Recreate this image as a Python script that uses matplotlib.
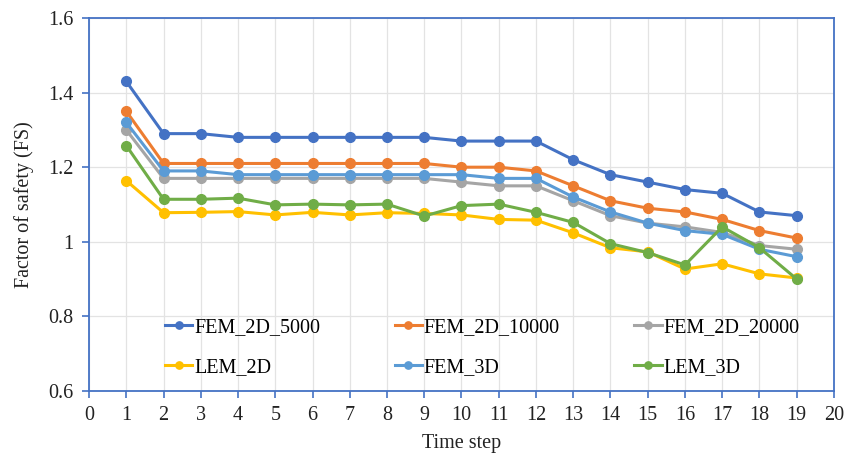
import matplotlib
matplotlib.use("Agg")
import matplotlib.pyplot as plt

# === Data ===
steps = list(range(1, 20))

fem_2d_5000 = [1.43, 1.29, 1.29, 1.28, 1.28, 1.28, 1.28, 1.28, 1.28, 1.27,
               1.27, 1.27, 1.22, 1.18, 1.16, 1.14, 1.13, 1.08, 1.07]
fem_2d_10000 = [1.35, 1.21, 1.21, 1.21, 1.21, 1.21, 1.21, 1.21, 1.21, 1.20,
                1.20, 1.19, 1.15, 1.11, 1.09, 1.08, 1.06, 1.03, 1.01]
fem_2d_20000 = [1.30, 1.17, 1.17, 1.17, 1.17, 1.17, 1.17, 1.17, 1.17, 1.16,
                1.15, 1.15, 1.11, 1.07, 1.05, 1.04, 1.025, 0.99, 0.98]
lem_2d = [1.164, 1.078, 1.079, 1.081, 1.072, 1.079, 1.072, 1.078, 1.076, 1.072,
          1.060, 1.058, 1.024, 0.984, 0.973, 0.927, 0.941, 0.914, 0.903]
fem_3d = [1.32, 1.19, 1.19, 1.18, 1.18, 1.18, 1.18, 1.18, 1.18, 1.18,
          1.17, 1.17, 1.12, 1.08, 1.05, 1.03, 1.02, 0.98, 0.96]
lem_3d = [1.258, 1.114, 1.114, 1.117, 1.099, 1.101, 1.099, 1.101, 1.069, 1.097,
          1.101, 1.079, 1.052, 0.995, 0.971, 0.938, 1.04, 0.984, 0.90]

series = [
    ("FEM_2D_5000", fem_2d_5000, "#4472C4"),
    ("FEM_2D_10000", fem_2d_10000, "#ED7D31"),
    ("FEM_2D_20000", fem_2d_20000, "#A5A5A5"),
    ("LEM_2D", lem_2d, "#FFC000"),
    ("FEM_3D", fem_3d, "#5B9BD5"),
    ("LEM_3D", lem_3d, "#70AD47"),
]

x_ticks = list(range(0, 21))
y_ticks = [0.6, 0.8, 1.0, 1.2, 1.4, 1.6]
y_labels = ["0.6", "0.8", "1", "1.2", "1.4", "1.6"]

plt.rcParams['font.family'] = ['Liberation Serif', 'DejaVu Serif']

fig = plt.figure(figsize=(8.61, 4.58), dpi=100)
ax = fig.add_axes([0.1034, 0.1463, 0.8652, 0.8144])

# gray under light blue, as in the reference
order = [2, 4, 0, 1, 3, 5]
handles = {}
for i in order:
    name, vals, col = series[i]
    h, = ax.plot(steps, vals, color=col, lw=2.2, marker='o', ms=7,
                 label=name, zorder=3 + i)
    handles[i] = h

ax.set_xlim(0, 20)
ax.set_ylim(0.6, 1.6)
ax.set_xticks(x_ticks)
ax.set_yticks(y_ticks)
ax.set_yticklabels(y_labels)
ax.grid(True, color='#E3E3E3', lw=0.9, zorder=0)

spine_col = '#4472C4'
for s in ax.spines.values():
    s.set_color(spine_col)
    s.set_linewidth(1.3)
ax.tick_params(axis='both', colors=spine_col, labelcolor='#222222',
               labelsize=14.5, direction='out', length=5, width=1.2, pad=6)

ax.set_xlabel("Time step", fontsize=14.5, color='#222222', labelpad=6)
ax.set_ylabel("Factor of safety (FS)", fontsize=14.5, color='#222222', labelpad=10)

# legend filled column-wise: reorder so rows read as in the reference
leg_order = [0, 3, 1, 4, 2, 5]
leg = ax.legend([handles[i] for i in leg_order], [series[i][0] for i in leg_order],
                ncol=3, loc='lower center', bbox_to_anchor=(0.528, -0.012),
                frameon=False, fontsize=14.5, handlelength=1.35,
                handletextpad=0.1, columnspacing=3.7, labelspacing=1.05,
                markerscale=0.75)

fig.savefig("out.png", dpi=100)
